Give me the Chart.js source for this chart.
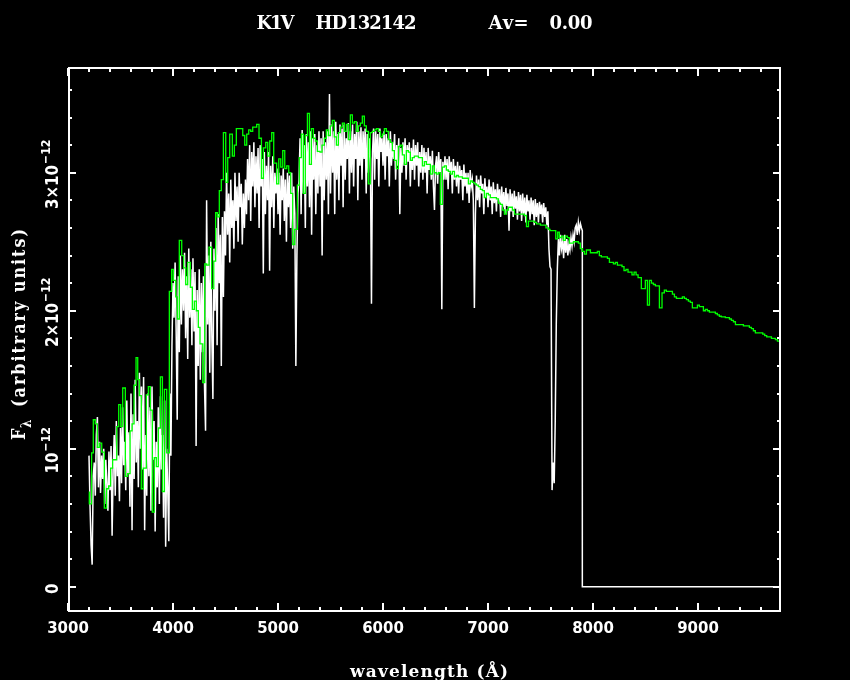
<!DOCTYPE html>
<html>
<head>
<meta charset="utf-8">
<title>K1V HD132142</title>
<script src="https://cdn.jsdelivr.net/npm/chart.js@4.4.1/dist/chart.umd.min.js"></script>
<style>
  html, body { margin: 0; padding: 0; background: #000; }
  #wrap { width: 850px; height: 680px; }
</style>
</head>
<body>
<div id="wrap"><canvas id="spec" width="850" height="680"></canvas></div>
<script>
// observed spectrum (white), flux in units of 1e-12, sampled every 10 A from 3200 A
const whiteStart = 3200;
const whiteStep = 10;
const whiteFlux = [
  0.95, 0.58, 0.30, 0.16, 0.80, 0.90, 0.66, 1.10, 1.23, 0.72,
  1.05, 0.68, 0.95, 0.78, 1.00, 0.60, 0.92, 0.74, 0.55, 0.98,
  0.70, 1.02, 0.37, 0.85, 1.10, 0.66, 1.20, 0.80, 0.95, 0.62,
  1.15, 0.75, 1.30, 0.88, 1.05, 0.70, 1.35, 0.82, 1.12, 0.58,
  1.40, 0.41, 1.25, 0.78, 1.50, 0.90, 1.20, 0.72, 1.55, 1.00,
  1.45, 0.85, 1.52, 0.41, 1.10, 0.66, 1.40, 0.80, 1.30, 0.55,
  1.45, 0.92, 1.20, 0.40, 1.05, 0.72, 1.30, 0.60, 1.38, 0.85,
  1.10, 0.50, 1.35, 0.29, 1.00, 0.70, 0.33, 1.40, 0.95, 1.75,
  2.20, 1.95, 2.35, 1.85, 1.21, 2.25, 1.70, 2.40, 1.90, 2.30,
  2.00, 2.42, 1.80, 2.25, 1.65, 2.45, 1.95, 2.30, 1.75, 2.38,
  1.85, 2.28, 1.02, 2.15, 1.60, 2.30, 1.50, 2.20, 1.70, 2.25,
  1.45, 1.13, 2.80, 1.90, 2.40, 1.55, 2.50, 1.80, 1.36, 2.45,
  2.00, 2.60, 1.75, 2.70, 2.20, 2.55, 1.60, 2.68, 2.10, 2.72,
  2.40, 3.00, 2.55, 2.85, 2.35, 2.95, 2.60, 2.80, 2.45, 3.00,
  2.65, 2.90, 2.50, 3.00, 2.75, 2.92, 2.48, 2.85, 2.60, 2.95,
  2.70, 3.10, 2.80, 3.20, 2.65, 3.15, 2.90, 3.22, 2.75, 3.12,
  2.85, 3.18, 2.60, 3.20, 2.90, 3.10, 2.27, 3.15, 2.70, 3.05,
  2.80, 3.15, 2.29, 3.05, 2.75, 3.12, 2.60, 3.00, 2.85, 3.03,
  2.70, 3.00, 2.55, 2.98, 2.80, 3.03, 2.65, 2.95, 2.50, 3.00,
  2.75, 2.98, 2.60, 3.00, 2.45, 2.90, 2.70, 1.60, 2.40, 2.85,
  2.95, 3.25, 2.70, 3.31, 2.85, 3.20, 2.60, 3.28, 2.90, 3.22,
  2.75, 3.30, 2.55, 3.25, 2.95, 3.28, 2.70, 3.20, 2.85, 3.30,
  2.90, 3.25, 2.40, 3.30, 2.80, 3.22, 2.95, 3.30, 2.70, 3.57,
  2.85, 3.35, 3.00, 3.30, 2.70, 3.37, 2.95, 3.28, 2.80, 3.35,
  3.05, 3.32, 2.75, 3.35, 2.95, 3.25, 3.10, 3.36, 2.85, 3.30,
  3.00, 3.35, 2.90, 3.28, 3.10, 3.37, 2.80, 3.30, 3.05, 3.33,
  2.95, 3.30, 3.10, 3.32, 2.85, 3.28, 3.00, 3.25, 3.10, 2.05,
  3.15, 3.32, 2.95, 3.30, 3.10, 3.28, 2.90, 3.32, 3.15, 3.25,
  3.05, 3.30, 2.95, 3.28, 3.12, 3.25, 2.90, 3.30, 3.05, 3.22,
  3.10, 3.28, 2.95, 3.20, 3.05, 3.25, 2.70, 3.18, 3.00, 3.22,
  3.05, 3.25, 2.95, 3.20, 3.08, 3.22, 2.90, 3.18, 3.02, 3.24,
  2.95, 3.20, 3.05, 3.22, 2.90, 3.15, 3.00, 3.20, 2.95, 3.18,
  3.00, 3.15, 2.85, 3.18, 3.02, 3.12, 2.95, 3.16, 2.90, 2.73,
  3.05, 3.12, 2.92, 3.15, 3.00, 3.10, 2.01, 3.08, 2.95, 3.12,
  2.95, 3.10, 2.88, 3.12, 3.00, 3.08, 2.85, 3.10, 2.95, 3.05,
  2.90, 3.08, 2.85, 3.05, 2.95, 3.02, 2.80, 3.06, 2.90, 3.00,
  2.85, 3.00, 2.78, 3.02, 2.90, 2.95, 2.80, 2.02, 2.70, 2.98,
  2.80, 2.95, 2.75, 2.98, 2.85, 2.92, 2.70, 2.96, 2.82, 2.90,
  2.75, 2.95, 2.80, 2.90, 2.70, 2.93, 2.78, 2.88, 2.72, 2.92,
  2.80, 2.88, 2.68, 2.90, 2.75, 2.86, 2.70, 2.89, 2.76, 2.85,
  2.58, 2.88, 2.72, 2.85, 2.68, 2.87, 2.74, 2.83, 2.66, 2.86,
  2.72, 2.84, 2.65, 2.85, 2.70, 2.82, 2.64, 2.84, 2.72, 2.80,
  2.66, 2.82, 2.70, 2.80, 2.62, 2.81, 2.68, 2.78, 2.64, 2.79,
  2.70, 2.77, 2.64, 2.78, 2.68, 2.75, 2.62, 2.72, 2.45, 2.32,
  2.30, 0.70, 0.90, 0.75, 1.20, 1.90, 2.30, 2.52, 2.40, 2.55,
  2.45, 2.50, 2.38, 2.55, 2.42, 2.52, 2.40, 2.48, 2.44, 2.53,
  2.47, 2.55, 2.50, 2.60, 2.62, 2.55, 2.64, 2.58, 2.63, 2.60
];
// after the spectrum ends the white trace sits at zero
const whiteTailWave = [7898, 7898, 9790];
const whiteTailFlux = [2.58, 0, 0];

// model (green), step histogram: bin start wavelength and flux
const greenWave = [
  3203, 3225, 3241, 3260, 3279, 3298, 3321, 3346, 3368, 3387,
  3406, 3425, 3464, 3483, 3502, 3521, 3546, 3568, 3591, 3610,
  3629, 3648, 3664, 3679, 3698, 3717, 3746, 3765, 3784, 3803,
  3822, 3841, 3860, 3880, 3899, 3918, 3940, 3965, 3987, 4003,
  4026, 4041, 4060, 4083, 4102, 4121, 4140, 4165, 4184, 4203,
  4222, 4241, 4257, 4283, 4302, 4321, 4343, 4368, 4388, 4406,
  4423, 4441, 4460, 4480, 4502, 4521, 4540, 4565, 4584, 4603,
  4664, 4683, 4702, 4721, 4740, 4759, 4797, 4819, 4842, 4861,
  4883, 4902, 4921, 4940, 4959, 4987, 5007, 5026, 5045, 5064,
  5083, 5102, 5121, 5140, 5159, 5184, 5203, 5222, 5241, 5260,
  5280, 5299, 5318, 5337, 5356, 5375, 5400, 5419, 5441, 5460,
  5479, 5498, 5517, 5536, 5556, 5575, 5594, 5613, 5632, 5651,
  5670, 5689, 5708, 5727, 5746, 5765, 5784, 5803, 5822, 5841,
  5860, 5879, 5898, 5917, 5936, 5956, 5975, 5994, 6013, 6032,
  6051, 6070, 6089, 6108, 6127, 6146, 6165, 6184, 6203, 6222,
  6241, 6260, 6279, 6298, 6317, 6337, 6356, 6375, 6394, 6413,
  6432, 6451, 6470, 6489, 6508, 6527, 6546, 6565, 6584, 6603,
  6622, 6641, 6660, 6680, 6699, 6718, 6737, 6756, 6775, 6794,
  6813, 6832, 6851, 6870, 6889, 6908, 6927, 6946, 6965, 6984,
  7003, 7022, 7042, 7061, 7080, 7099, 7118, 7137, 7156, 7175,
  7194, 7213, 7232, 7251, 7270, 7289, 7308, 7327, 7346, 7366,
  7385, 7404, 7423, 7442, 7461, 7480, 7499, 7552, 7575, 7590,
  7645, 7663, 7679, 7698, 7717, 7736, 7756, 7775, 7813, 7860,
  7879, 7898, 7918, 7937, 7956, 7975, 8041, 8060, 8079, 8137,
  8156, 8175, 8194, 8213, 8232, 8276, 8295, 8314, 8333, 8352,
  8371, 8391, 8410, 8429, 8460, 8498, 8518, 8537, 8556, 8575,
  8594, 8632, 8657, 8679, 8698, 8737, 8756, 8775, 8794, 8851,
  8870, 8889, 8908, 8927, 8946, 8994, 9013, 9051, 9070, 9089,
  9108, 9146, 9165, 9184, 9203, 9222, 9260, 9299, 9318, 9337,
  9356, 9394, 9413, 9432, 9470, 9489, 9508, 9527, 9546, 9597,
  9616, 9635, 9654, 9699, 9718, 9737, 9756, 9775, 9790
];
const greenFlux = [
  0.69, 0.60, 0.97, 1.21, 1.18, 1.01, 1.04, 0.975, 0.57, 0.71,
  0.73, 0.86, 0.92, 1.16, 1.32, 1.16, 1.44, 0.80, 0.82, 1.13,
  1.18, 1.46, 1.66, 1.50, 1.385, 0.71, 0.86, 1.39, 1.45, 1.28,
  0.54, 0.935, 0.87, 1.15, 1.52, 0.69, 1.43, 0.97, 2.14, 2.30,
  2.22, 2.10, 1.94, 2.51, 2.40, 2.31, 2.19, 2.35, 2.17, 2.01,
  2.07, 2.00, 1.88, 1.76, 1.48, 2.34, 2.33, 2.46, 2.16, 2.36,
  2.71, 2.68, 2.87, 2.95, 3.29, 2.93, 3.11, 3.28, 3.12, 3.20,
  3.32, 3.27, 3.20, 3.28, 3.31, 3.30, 3.33, 3.35, 3.25, 2.96,
  3.18, 3.22, 3.12, 3.23, 3.29, 3.07, 2.92, 3.10, 3.04, 3.16,
  3.03, 3.05, 3.00, 2.85, 2.48, 2.59, 2.91, 3.11, 3.28, 2.85,
  3.27, 3.43, 3.06, 3.32, 3.25, 3.23, 3.155, 3.15, 3.20, 3.25,
  3.31, 3.27, 3.34, 3.38, 3.26, 3.20, 3.29, 3.33, 3.36, 3.30,
  3.35, 3.24, 3.42, 3.36, 3.37, 3.30, 3.34, 3.36, 3.41, 3.34,
  3.30, 2.92, 3.29, 3.30, 3.31, 3.32, 3.30, 3.26, 3.28, 3.32,
  3.30, 3.24, 3.22, 3.16, 3.09, 3.03, 3.19, 3.20, 3.13, 3.06,
  3.16, 3.15, 3.09, 3.11, 3.12, 3.12, 3.11, 3.11, 3.05, 3.08,
  3.06, 3.06, 2.99, 3.05, 3.00, 2.99, 3.00, 2.77, 3.04, 3.05,
  3.02, 3.01, 2.99, 3.01, 2.97, 2.98, 2.97, 2.97, 2.96, 2.96,
  2.96, 2.92, 2.94, 2.93, 2.92, 2.91, 2.90, 2.88, 2.87, 2.82,
  2.85, 2.84, 2.82, 2.82, 2.82, 2.81, 2.78, 2.77, 2.73, 2.70,
  2.73, 2.75, 2.75, 2.73, 2.70, 2.70, 2.70, 2.70, 2.70, 2.69,
  2.61, 2.65, 2.65, 2.65, 2.64, 2.63, 2.63, 2.62, 2.60, 2.59,
  2.58, 2.52, 2.57, 2.53, 2.54, 2.51, 2.54, 2.53, 2.49, 2.50,
  2.49, 2.45, 2.43, 2.41, 2.44, 2.44, 2.42, 2.43, 2.40, 2.39,
  2.38, 2.35, 2.35, 2.34, 2.35, 2.33, 2.32, 2.29, 2.30, 2.28,
  2.28, 2.26, 2.28, 2.26, 2.24, 2.16, 2.22, 2.04, 2.22, 2.20,
  2.19, 2.18, 2.02, 2.13, 2.15, 2.14, 2.14, 2.12, 2.10, 2.09,
  2.10, 2.09, 2.08, 2.07, 2.06, 2.02, 2.04, 2.03, 2.00, 2.01,
  2.00, 1.99, 1.99, 1.98, 1.97, 1.96, 1.955, 1.95, 1.94, 1.93,
  1.92, 1.90, 1.90, 1.90, 1.89, 1.89, 1.88, 1.87, 1.855, 1.84,
  1.84, 1.83, 1.82, 1.81, 1.80, 1.80, 1.79, 1.78, 1.78
];

// axis ticks
const xMajor = [3000, 4000, 5000, 6000, 7000, 8000, 9000];
const xTickLabels = ['3000', '4000', '5000', '6000', '7000', '8000', '9000'];
const yMajor = [0, 1, 2, 3];
const yTickMain = ['0', '10', '2\u00d710', '3\u00d710'];
const yTickExp = ['', '\u221212', '\u221212', '\u221212'];

const whitePoints = whiteFlux.map((f, i) => ({ x: whiteStart + i * whiteStep, y: f }));
whiteTailWave.forEach((w, i) => whitePoints.push({ x: w, y: whiteTailFlux[i] }));
const greenPoints = greenWave.map((w, i) => ({ x: w, y: greenFlux[i] }));

const SERIF = '"DejaVu Serif", "Liberation Serif", serif';
const NUM_FONT = '"DejaVu Sans", sans-serif';
const ROT_STRETCH = 1.18; // rotated text in the original is a bit taller than wide

// draw text left-aligned from x, spread or squeezed to a given total width
function spacedText(ctx, text, x, y, total) {
    const chars = Array.from(text);
    const widths = chars.map(c => ctx.measureText(c).width);
    const natural = widths.reduce((s, w) => s + w, 0);
    const extra = chars.length > 1 ? (total - natural) / (chars.length - 1) : 0;
    let cx = x;
    chars.forEach((c, i) => {
        ctx.fillText(c, cx, y);
        cx += widths[i] + extra;
    });
}

// black page, white frame, inward ticks and all the labels
const framePlugin = {
    id: 'frame',
    beforeDraw(chart) {
        const ctx = chart.ctx;
        ctx.save();
        ctx.fillStyle = '#000';
        ctx.fillRect(0, 0, chart.width, chart.height);
        ctx.restore();
    },
    afterDatasetsDraw(chart) {
        const { ctx, chartArea: a, scales: { x, y } } = chart;
        ctx.save();
        ctx.strokeStyle = '#fff';
        ctx.fillStyle = '#fff';
        ctx.lineWidth = 2;
        ctx.strokeRect(a.left + 1, a.top, a.right - a.left - 2, a.bottom - a.top);

        // x ticks, every 200 A, major every 1000 A
        for (let w = 3000; w <= 9790; w += 200) {
            const px = Math.round(x.getPixelForValue(w));
            const len = (w % 1000 === 0) ? 8 : 4;
            ctx.beginPath();
            ctx.moveTo(px, a.bottom); ctx.lineTo(px, a.bottom - len);
            ctx.moveTo(px, a.top); ctx.lineTo(px, a.top + len);
            ctx.stroke();
        }
        // y ticks, every 0.2e-12
        for (let k = 0; k <= 18; k++) {
            const py = Math.round(y.getPixelForValue(k * 0.2));
            const len = (k % 5 === 0) ? 8 : 4;
            ctx.beginPath();
            ctx.moveTo(a.left, py); ctx.lineTo(a.left + len, py);
            ctx.moveTo(a.right, py); ctx.lineTo(a.right - len, py);
            ctx.stroke();
        }

        // x tick labels
        ctx.font = 'bold 15px ' + NUM_FONT;
        ctx.textAlign = 'center';
        ctx.textBaseline = 'alphabetic';
        xMajor.forEach((w, i) => {
            ctx.fillText(xTickLabels[i], x.getPixelForValue(w), 633);
        });

        // y tick labels, rotated, with exponent
        yMajor.forEach((v, i) => {
            const py = y.getPixelForValue(v);
            ctx.save();
            ctx.translate(58, py);
            ctx.rotate(-Math.PI / 2);
            ctx.scale(1, ROT_STRETCH);
            ctx.font = 'bold 15px ' + NUM_FONT;
            const wMain = ctx.measureText(yTickMain[i]).width;
            ctx.font = 'bold 11px ' + NUM_FONT;
            const wExp = ctx.measureText(yTickExp[i]).width;
            const start = -(wMain + wExp) / 2 - 2;
            ctx.textAlign = 'left';
            ctx.font = 'bold 15px ' + NUM_FONT;
            ctx.fillText(yTickMain[i], start, 0);
            ctx.font = 'bold 11px ' + NUM_FONT;
            ctx.fillText(yTickExp[i], start + wMain + 1, -7);
            ctx.restore();
        });

        // title
        ctx.textAlign = 'left';
        ctx.font = 'bold 18px ' + SERIF;
        spacedText(ctx, 'K1V', 256.5, 28.5, 38);
        spacedText(ctx, 'HD132142', 315.5, 28.5, 101);
        spacedText(ctx, 'Av=', 488.5, 28.5, 40);
        spacedText(ctx, '0.00', 549.5, 28.5, 43);

        // x axis title
        ctx.font = 'bold 17px ' + SERIF;
        spacedText(ctx, 'wavelength (\u00c5)', 350, 677, 158);

        // y axis title, F with subscript lambda, reading upwards
        ctx.save();
        ctx.translate(25, 440);
        ctx.rotate(-Math.PI / 2);
        ctx.scale(1, ROT_STRETCH);
        ctx.textAlign = 'left';
        ctx.font = 'bold 16px ' + SERIF;
        ctx.fillText('F', 0, 0);
        ctx.font = 'bold 12px ' + SERIF;
        ctx.fillText('\u03bb', 12, 5);
        ctx.font = 'bold 16px ' + SERIF;
        spacedText(ctx, '(arbitrary units)', 33, 0, 178);
        ctx.restore();

        ctx.restore();
    }
};

new Chart(document.getElementById('spec'), {
    type: 'line',
    data: {
        datasets: [
            {
                label: 'model',
                data: greenPoints,
                borderColor: '#00ff00',
                borderWidth: 1.3,
                stepped: 'after',
                pointRadius: 0,
                order: 0
            },
            {
                label: 'observed',
                data: whitePoints,
                borderColor: '#ffffff',
                borderWidth: 1.5,
                pointRadius: 0,
                tension: 0,
                order: 1
            }
        ]
    },
    options: {
        responsive: false,
        animation: false,
        devicePixelRatio: 1,
        layout: { padding: { left: 68, right: 69, top: 68, bottom: 69 } },
        plugins: {
            legend: { display: false },
            tooltip: { enabled: false },
            title: { display: false }
        },
        scales: {
            x: { type: 'linear', min: 3000, max: 9790, display: false },
            y: { type: 'linear', min: -0.176, max: 3.759, display: false }
        }
    },
    plugins: [framePlugin]
});
</script>
</body>
</html>
